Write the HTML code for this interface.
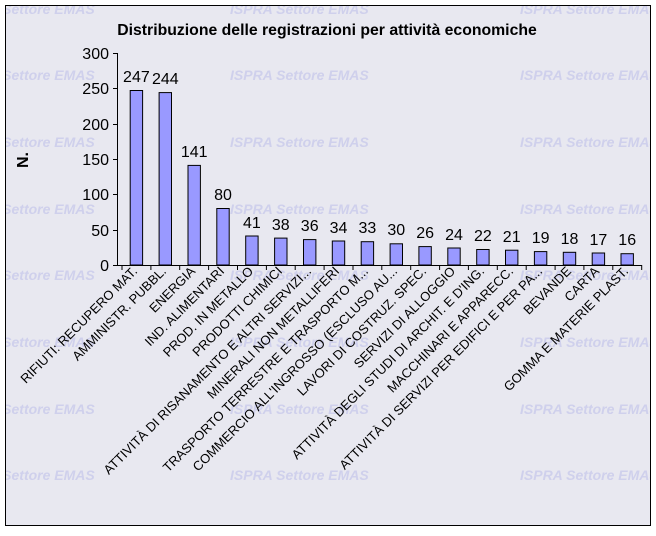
<!DOCTYPE html>
<html><head><meta charset="utf-8"><style>
body{margin:0;background:#fff;}
</style></head><body>
<svg width="656" height="531" xmlns="http://www.w3.org/2000/svg" font-family="Liberation Sans, Arial, sans-serif">
<defs><clipPath id="c"><rect x="6" y="6" width="644" height="519"/></clipPath></defs>
<rect x="5.5" y="5.5" width="645" height="520" fill="#e8e8f0" stroke="#000"/>
<g clip-path="url(#c)" font-size="14" font-weight="bold" font-style="italic" fill="#cfd0ec">
<g id="r">
<text x="-44" y="14">ISPRA Settore EMAS</text>
<text x="230" y="14">ISPRA Settore EMAS</text>
<text x="520" y="14">ISPRA Settore EMAS</text>
</g>
<use href="#r" y="66"/><use href="#r" y="133"/><use href="#r" y="200"/><use href="#r" y="266"/><use href="#r" y="333"/><use href="#r" y="400"/><use href="#r" y="466"/>
</g>
<text x="327" y="35" text-anchor="middle" font-size="15.8" font-weight="bold">Distribuzione delle registrazioni per attività economiche</text>
<text transform="translate(28,160) rotate(-90)" text-anchor="middle" font-size="16" font-weight="bold">N.</text>
<g stroke="#000" stroke-width="1">
<line x1="117.5" y1="53" x2="117.5" y2="265"/>
<line x1="117" y1="265.5" x2="642" y2="265.5"/>
<line x1="113" y1="53.5" x2="117" y2="53.5"/><line x1="113" y1="88.5" x2="117" y2="88.5"/><line x1="113" y1="124.5" x2="117" y2="124.5"/><line x1="113" y1="159.5" x2="117" y2="159.5"/><line x1="113" y1="194.5" x2="117" y2="194.5"/><line x1="113" y1="230.5" x2="117" y2="230.5"/><line x1="113" y1="265.5" x2="117" y2="265.5"/>
<line x1="122" y1="265" x2="122" y2="270"/><line x1="150.9" y1="265" x2="150.9" y2="270"/><line x1="179.7" y1="265" x2="179.7" y2="270"/><line x1="208.6" y1="265" x2="208.6" y2="270"/><line x1="237.5" y1="265" x2="237.5" y2="270"/><line x1="266.4" y1="265" x2="266.4" y2="270"/><line x1="295.2" y1="265" x2="295.2" y2="270"/><line x1="324.1" y1="265" x2="324.1" y2="270"/><line x1="353" y1="265" x2="353" y2="270"/><line x1="381.8" y1="265" x2="381.8" y2="270"/><line x1="410.7" y1="265" x2="410.7" y2="270"/><line x1="439.6" y1="265" x2="439.6" y2="270"/><line x1="468.4" y1="265" x2="468.4" y2="270"/><line x1="497.3" y1="265" x2="497.3" y2="270"/><line x1="526.2" y1="265" x2="526.2" y2="270"/><line x1="555.1" y1="265" x2="555.1" y2="270"/><line x1="583.9" y1="265" x2="583.9" y2="270"/><line x1="612.8" y1="265" x2="612.8" y2="270"/><line x1="641.7" y1="265" x2="641.7" y2="270"/>
</g>
<g font-size="16" text-anchor="end">
<text x="109" y="59">300</text><text x="109" y="94">250</text><text x="109" y="130">200</text><text x="109" y="165">150</text><text x="109" y="200">100</text><text x="109" y="236">50</text><text x="109" y="271">0</text>
</g>
<g fill="#9999ff" stroke="#000">
<rect x="130.2" y="90.5" width="12.4" height="174.5"/>
<rect x="159.1" y="92.6" width="12.4" height="172.4"/>
<rect x="188" y="165.4" width="12.4" height="99.6"/>
<rect x="216.8" y="208.5" width="12.4" height="56.5"/>
<rect x="245.7" y="236" width="12.4" height="29"/>
<rect x="274.6" y="238.1" width="12.4" height="26.9"/>
<rect x="303.5" y="239.6" width="12.4" height="25.4"/>
<rect x="332.3" y="241" width="12.4" height="24"/>
<rect x="361.2" y="241.7" width="12.4" height="23.3"/>
<rect x="390.1" y="243.8" width="12.4" height="21.2"/>
<rect x="418.9" y="246.6" width="12.4" height="18.4"/>
<rect x="447.8" y="248" width="12.4" height="17"/>
<rect x="476.7" y="249.5" width="12.4" height="15.5"/>
<rect x="505.5" y="250.2" width="12.4" height="14.8"/>
<rect x="534.4" y="251.6" width="12.4" height="13.4"/>
<rect x="563.3" y="252.3" width="12.4" height="12.7"/>
<rect x="592.2" y="253" width="12.4" height="12"/>
<rect x="621" y="253.7" width="12.4" height="11.3"/>
</g>
<g font-size="16" text-anchor="middle">
<text x="136.4" y="82">247</text><text x="165.3" y="84">244</text><text x="194.2" y="157">141</text><text x="223" y="200">80</text><text x="251.9" y="228">41</text><text x="280.8" y="230">38</text><text x="309.7" y="231">36</text><text x="338.5" y="233">34</text><text x="367.4" y="233">33</text><text x="396.3" y="235">30</text><text x="425.1" y="238">26</text><text x="454" y="240">24</text><text x="482.9" y="241">22</text><text x="511.7" y="242">21</text><text x="540.6" y="243">19</text><text x="569.5" y="244">18</text><text x="598.4" y="245">17</text><text x="627.2" y="245">16</text>
</g>
<g font-size="13" text-anchor="end">
<text transform="translate(138,272) rotate(-45)">RIFIUTI: RECUPERO MAT.</text>
<text transform="translate(167,272) rotate(-45)">AMMINISTR. PUBBL.</text>
<text transform="translate(196,272) rotate(-45)">ENERGIA</text>
<text transform="translate(225,272) rotate(-45)">IND. ALIMENTARI</text>
<text transform="translate(254,272) rotate(-45)">PROD. IN METALLO</text>
<text transform="translate(283,272) rotate(-45)">PRODOTTI CHIMICI</text>
<text transform="translate(312,272) rotate(-45)">ATTIVITÀ DI RISANAMENTO E ALTRI SERVIZI...</text>
<text transform="translate(340,272) rotate(-45)">MINERALI NON METALLIFERI</text>
<text transform="translate(369,272) rotate(-45)">TRASPORTO TERRESTRE E TRASPORTO M...</text>
<text transform="translate(398,272) rotate(-45)">COMMERCIO ALL'INGROSSO (ESCLUSO AU...</text>
<text transform="translate(427,272) rotate(-45)">LAVORI DI COSTRUZ. SPEC.</text>
<text transform="translate(456,272) rotate(-45)">SERVIZI DI ALLOGGIO</text>
<text transform="translate(485,272) rotate(-45)">ATTIVITÀ DEGLI STUDI DI ARCHIT. E D'ING.</text>
<text transform="translate(514,272) rotate(-45)">MACCHINARI E APPARECC.</text>
<text transform="translate(543,272) rotate(-45)">ATTIVITÀ DI SERVIZI PER EDIFICI E PER PA...</text>
<text transform="translate(572,272) rotate(-45)">BEVANDE</text>
<text transform="translate(600,272) rotate(-45)">CARTA</text>
<text transform="translate(629,272) rotate(-45)">GOMMA E MATERIE PLAST.</text>
</g>
</svg>
</body></html>
